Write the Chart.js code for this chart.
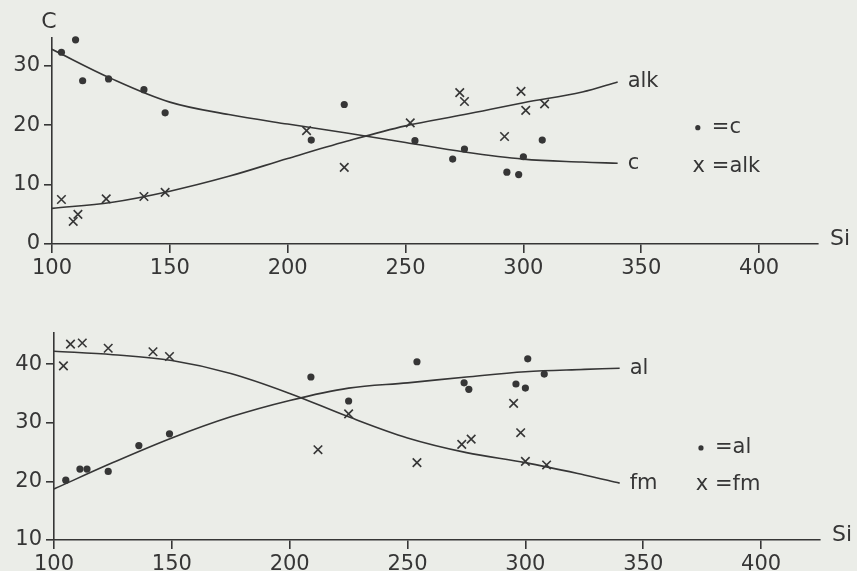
<!DOCTYPE html>
<html>
<head>
<meta charset="utf-8">
<script src="https://cdn.jsdelivr.net/npm/chart.js@4/dist/chart.umd.min.js"></script>
<style>
  html, body { margin: 0; padding: 0; background: #ebede8; }
  #wrap { position: relative; width: 857px; height: 571px; overflow: hidden; }
  canvas { position: absolute; left: 0; }
</style>
</head>
<body>
<div id="wrap">
  <canvas id="upper" width="857" height="285" style="top:0"></canvas>
  <canvas id="lower" width="857" height="286" style="top:285px"></canvas>
</div>
<script>
// upper panel: measured c (dots) and alk (crosses) against Si
var cSi = [104, 110, 113, 124, 139, 148, 210, 224, 254, 270, 275, 293, 298, 300, 308];
var cVal = [32.3, 34.4, 27.5, 27.8, 26.0, 22.1, 17.5, 23.5, 17.4, 14.3, 16.0, 12.1, 11.7, 14.7, 17.5];
var alkSi = [104, 109, 111, 123, 139, 148, 208, 224, 252, 273, 275, 292, 299, 301, 309];
var alkVal = [7.5, 3.8, 5.0, 7.6, 8.0, 8.7, 19.1, 12.9, 20.4, 25.5, 24.0, 18.1, 25.7, 22.5, 23.6];

// lower panel: measured al (dots) and fm (crosses)
var alSi = [105, 111, 114, 123, 136, 149, 209, 225, 254, 274, 276, 296, 300, 301, 308];
var alVal = [20.2, 22.1, 22.1, 21.7, 26.1, 28.1, 37.8, 33.7, 40.4, 36.8, 35.7, 36.6, 35.9, 40.9, 38.3];
var fmSi = [104, 107, 112, 123, 142, 149, 212, 225, 254, 273, 277, 295, 298, 300, 309];
var fmVal = [39.7, 43.4, 43.6, 42.7, 42.1, 41.3, 25.4, 31.5, 23.2, 26.3, 27.2, 33.3, 28.3, 23.4, 22.8];

// fitted curves at these Si values
var curveSi = [100, 125, 150, 175, 200, 225, 250, 275, 300, 325, 340];
var cCurve = [32.8, 27.9, 23.9, 21.8, 20.2, 18.7, 17.1, 15.5, 14.3, 13.8, 13.6];
var alkCurve = [6.0, 7.0, 8.9, 11.4, 14.4, 17.3, 19.9, 21.8, 23.8, 25.6, 27.3];
var alCurve = [18.7, 23.2, 27.4, 31.0, 33.8, 35.9, 36.8, 37.8, 38.7, 39.1, 39.3];
var fmCurve = [42.2, 41.6, 40.6, 38.4, 35.0, 31.0, 27.4, 24.9, 23.2, 21.1, 19.7];

// axis ticks
var siTicks = [100, 150, 200, 250, 300, 350, 400];
var upperTicks = [0, 10, 20, 30];
var lowerTicks = [10, 20, 30, 40];

var ink = '#363636';
var font = '"DejaVu Sans", sans-serif';

function pts(xs, ys) {
  var out = [];
  for (var i = 0; i < xs.length; i++) out.push({ x: xs[i], y: ys[i] });
  return out;
}

// labels that sit on the drawing: axis names, curve names, key
var annotations = {
  id: 'annotations',
  afterDraw: function(chart) {
    var o = chart.options.plugins.annotations;
    var ctx = chart.ctx, a = chart.chartArea;
    var xs = chart.scales.x, ys = chart.scales.y;
    ctx.save();
    ctx.fillStyle = ink;
    ctx.textBaseline = 'middle';
    ctx.font = '22px ' + font;
    ctx.fillText('Si', a.right + 12, a.bottom - 5);
    if (o.yName) {
      ctx.textAlign = 'center';
      ctx.fillText(o.yName, a.left - 3, a.top - 16);
      ctx.textAlign = 'left';
    }
    ctx.font = '21px ' + font;
    // names at the end of the two fitted curves
    o.curveNames.forEach(function(name, k) {
      var meta = chart.getDatasetMeta(o.curveIdx[k]);
      var p = meta.data[meta.data.length - 1];
      ctx.fillText(name, p.x + 10, p.y);
    });
    // key
    var kx = xs.getPixelForValue(o.keySi);
    var y1 = ys.getPixelForValue(o.keyY[0]);
    var y2 = ys.getPixelForValue(o.keyY[1]);
    ctx.beginPath();
    ctx.arc(kx, y1, 2.6, 0, Math.PI * 2);
    ctx.fill();
    ctx.fillText('=' + o.names[0], kx + 14, y1);
    ctx.textAlign = 'center';
    ctx.fillText('x', kx + 1, y2);
    ctx.textAlign = 'left';
    ctx.fillText('=' + o.names[1], kx + 14, y2);
    ctx.restore();
  }
};

function makeChart(id, dots, crosses, curveA, curveB, yMin, yMax, yTicks, pad, opts) {
  return new Chart(document.getElementById(id), {
    type: 'scatter',
    data: {
      datasets: [
        { data: dots, pointStyle: 'circle', pointRadius: 3.6, backgroundColor: ink, borderWidth: 0, clip: false },
        { data: crosses, pointStyle: 'crossRot', pointRadius: 6, borderColor: ink, borderWidth: 1.6, clip: false },
        { data: curveA, showLine: true, pointRadius: 0, borderColor: ink, borderWidth: 1.6, tension: 0.35 },
        { data: curveB, showLine: true, pointRadius: 0, borderColor: ink, borderWidth: 1.6, tension: 0.35 }
      ]
    },
    options: {
      responsive: false,
      animation: false,
      layout: { padding: pad },
      plugins: { legend: { display: false }, tooltip: { enabled: false }, annotations: opts },
      scales: {
        x: {
          type: 'linear', min: 100, max: 425,
          afterFit: function(s) { s.height = opts.xHeight; },
          afterBuildTicks: function(s) { s.ticks = siTicks.map(function(v) { return { value: v }; }); },
          border: { display: true, color: ink, width: 1.6 },
          grid: { drawOnChartArea: false, drawTicks: true, tickLength: 9, color: ink, lineWidth: 1.6 },
          ticks: { color: ink, padding: 3, maxRotation: 0, font: { family: font, size: 21 } }
        },
        y: {
          type: 'linear', min: yMin, max: yMax,
          afterFit: function(s) { s.width = opts.yWidth; },
          afterBuildTicks: function(s) { s.ticks = yTicks.map(function(v) { return { value: v }; }); },
          border: { display: true, color: ink, width: 1.6 },
          grid: { drawOnChartArea: false, drawTicks: true, tickLength: 8, color: ink, lineWidth: 1.6 },
          ticks: { color: ink, padding: 4, font: { family: font, size: 21 } }
        }
      }
    },
    plugins: [annotations]
  });
}

makeChart('upper', pts(cSi, cVal), pts(alkSi, alkVal), pts(curveSi, alkCurve), pts(curveSi, cCurve),
  0, 34.7, upperTicks, { top: 38, right: 39, left: 0, bottom: 0 },
  { yName: 'C', names: ['c', 'alk'], curveNames: ['alk', 'c'], curveIdx: [2, 3],
    keySi: 374, keyY: [19.6, 13.0], xHeight: 41, yWidth: 52 });

makeChart('lower', pts(alSi, alVal), pts(fmSi, fmVal), pts(curveSi, alCurve), pts(curveSi, fmCurve),
  10, 45.3, lowerTicks, { top: 48, right: 37, left: 0, bottom: 0 },
  { yName: '', names: ['al', 'fm'], curveNames: ['al', 'fm'], curveIdx: [2, 3],
    keySi: 374.5, keyY: [25.7, 19.4], xHeight: 31, yWidth: 54 });
</script>
</body>
</html>
